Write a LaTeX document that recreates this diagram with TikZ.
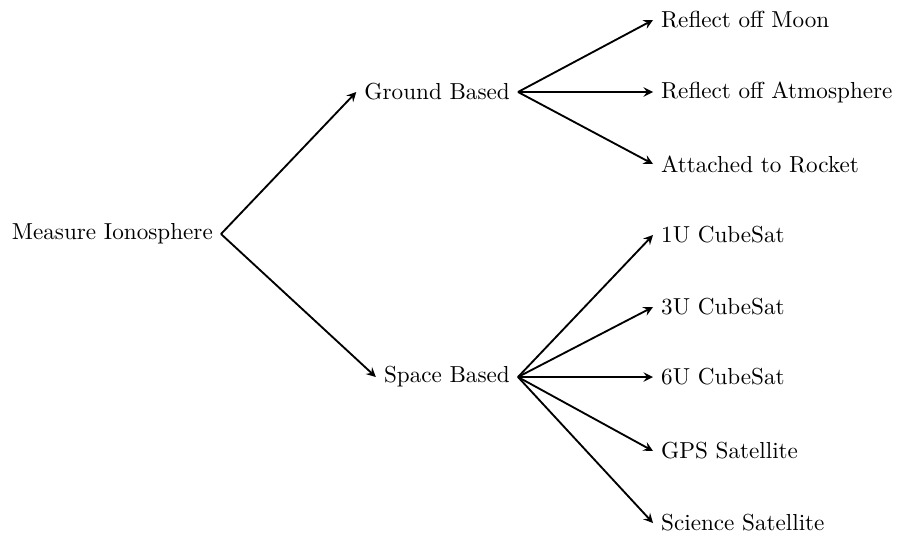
\documentclass[tikz,border=0pt]{standalone}
\begin{document}
\begin{tikzpicture}[x=0.432pt,y=-0.432pt,
  conn/.style={-stealth,thick},
  leaf/.style={anchor=west},
  mid/.style={anchor=east}]
\useasboundingbox (0,0) rectangle (897,535);
\node[anchor=east] (root) at (221,234) {Measure Ionosphere};
\node[mid] (gb) at (518,92) {Ground Based};
\node[mid] (sb) at (518,377) {Space Based};
\node[leaf] (l1) at (653,20) {Reflect off Moon};
\node[leaf] (l2) at (653,92) {Reflect off Atmosphere};
\node[leaf] (l3) at (653,164) {Attached to Rocket};
\node[leaf] (l4) at (653,235) {1U CubeSat};
\node[leaf] (l5) at (653,307) {3U CubeSat};
\node[leaf] (l6) at (653,377) {6U CubeSat};
\node[leaf] (l7) at (653,451) {GPS Satellite};
\node[leaf] (l8) at (653,523) {Science Satellite};
\draw[conn] (root.east) -- (gb.west);
\draw[conn] (root.east) -- (sb.west);
\foreach \n in {l1,l2,l3} \draw[conn] (gb.east) -- (\n.west);
\foreach \n in {l4,l5,l6,l7,l8} \draw[conn] (sb.east) -- (\n.west);
\end{tikzpicture}
\end{document}
